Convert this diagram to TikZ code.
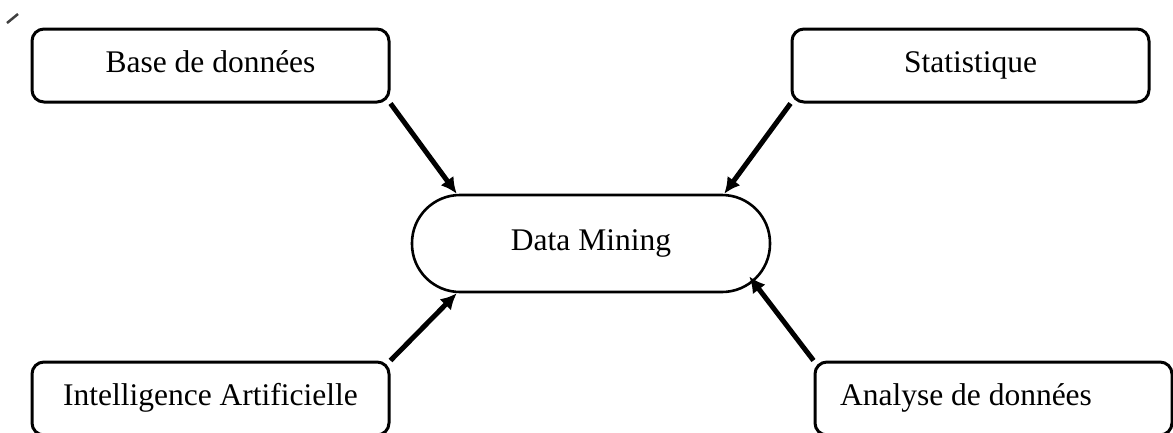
\documentclass[tikz,border=0pt]{standalone}
\usepackage{fontspec}
\setmainfont{Liberation Serif}
\usetikzlibrary{arrows.meta}
\begin{document}
\begin{tikzpicture}[x=1pt,y=-1pt,
  every node/.style={font=\fontsize{31.5}{38}\selectfont, text height=21pt, text depth=8pt, inner sep=0pt},
  srcbox/.style={draw, line width=3pt, rounded corners=12pt, minimum width=357pt, minimum height=73pt},
  hub/.style={draw, line width=2.6pt, rounded corners=48pt, minimum width=358pt, minimum height=97pt},
  feed/.style={line width=5pt, -{Latex[length=16pt,width=16pt]}}]
  \useasboundingbox (0,0) rectangle (1173,432);
  % small pen stroke in the corner
  \draw[black!75, line width=2.5pt] (7,23) -- (18,14);
  % central term
  \node[hub] (dm) at (591,243.5) {Data Mining};
  % the four contributing fields
  \node[srcbox] (bd) at (210.5,65.5) {Base de données};
  \node[srcbox] (st) at (970.5,65.5) {Statistique};
  \node[srcbox] (ia) at (210.5,398.5) {Intelligence Artificielle};
  \node[srcbox] (ad) at (993.5,398.5) {};
  \node (adt) at (966,398.5) {Analyse de données};
  % arrows into the hub
  \draw[feed] (bd.south east) -- ([xshift=46pt]dm.north west);
  \draw[feed] (st.south west) -- ([xshift=-47pt]dm.north east);
  \draw[feed] (ia.north east) -- ([xshift=46pt]dm.south west);
  \draw[feed] (ad.north west) -- ([xshift=-22pt,yshift=-33pt]dm.east);
\end{tikzpicture}
\end{document}
